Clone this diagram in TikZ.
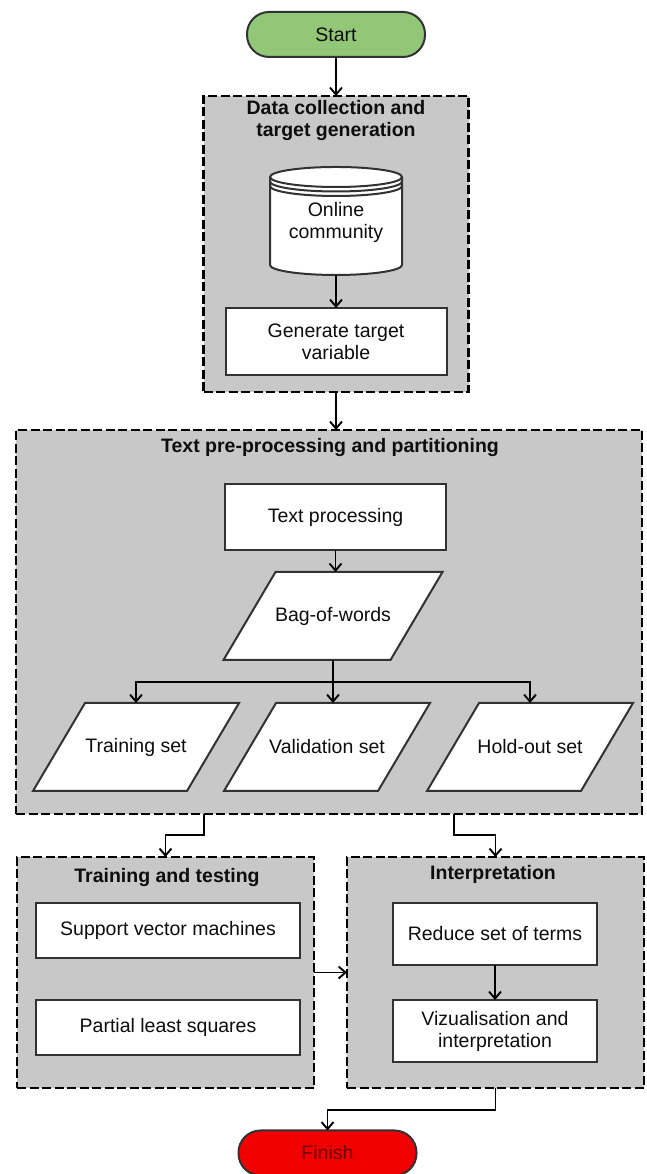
\documentclass[tikz,border=0pt]{standalone}
\usepackage{fontspec}
\setmainfont{Liberation Sans}
\usetikzlibrary{arrows.meta,calc,positioning}

\definecolor{groupgray}{RGB}{200,200,200}
\definecolor{startgreen}{RGB}{146,199,120}
\definecolor{finishred}{RGB}{240,0,0}
\definecolor{edgegray}{RGB}{50,50,50}

\tikzset{
  every node/.style={font=\fontsize{19.5}{22}\selectfont, align=center,
    inner sep=0pt, outer sep=0pt, text=black!95},
  group/.style={draw=black, fill=groupgray, line width=2.8pt,
    dash pattern=on 9pt off 3.5pt},
  process/.style={draw=edgegray, fill=white, line width=2pt},
  terminal/.style={draw=edgegray, line width=2pt, rounded corners=22pt,
    minimum width=178, minimum height=45},
  title/.style={font=\fontsize{19.5}{22}\selectfont\bfseries},
  flow/.style={draw, line width=1.9pt, -{Straight Barb[length=7pt,width=12pt]}},
}

% slanted data box: name, x, y, half width, text
\newcommand{\slantbox}[5]{%
  \draw[process] ($(#2,#3)+(-#4-26,-44)$) -- ++(2*#4,0) -- ++(52,88)
    -- ++(-2*#4,0) -- cycle;
  \node[minimum width=2*#4, minimum height=88] (#1) at (#2,#3) {#5};
}

\begin{document}
\begin{tikzpicture}[x=1pt, y=1pt]
  \useasboundingbox (0,0) rectangle (647,1174);

  % start
  \node[terminal, fill=startgreen] (start) at (336,1139.5) {Start};

  % data collection and target generation
  \node[group, minimum width=265, minimum height=296] (collect) at (336,930) {};
  \node[title] (collect title) at (336,1053) {Data collection and\\target generation};

  % database drum
  \filldraw[process] (270,997) arc[start angle=180, end angle=0, x radius=66, y radius=10]
    -- (402,909) arc[start angle=0, end angle=-180, x radius=66, y radius=10] -- cycle;
  \draw[process, fill=none]
    (270,997) arc[start angle=180, end angle=360, x radius=66, y radius=10]
    (270,992.5) arc[start angle=180, end angle=360, x radius=66, y radius=10]
    (270,988) arc[start angle=180, end angle=360, x radius=66, y radius=10];
  \node (online) at (336,952) {Online\\community};
  \coordinate (cylbase) at (336,899);

  \node[process, minimum width=221, minimum height=67] (target) at (336,832.5)
    {Generate target\\variable};

  % text pre-processing and partitioning
  \node[group, minimum width=626, minimum height=384] (prep) at (329,552) {};
  \node[title] (prep title) at (330,726) {Text pre-processing and partitioning};
  \node[process, minimum width=221, minimum height=66] (textproc) at (335.5,657)
    {Text processing};
  \slantbox{bow}{333}{558}{83.5}{Bag-of-words}
  \slantbox{train}{136}{427}{77}{Training set}
  \slantbox{valid}{327}{427}{77}{Validation set}
  \slantbox{holdout}{530}{427}{77}{Hold-out set}

  % training and testing
  \node[group, minimum width=297, minimum height=231] (model) at (165.5,201.5) {};
  \node[title] (model title) at (167,296.5) {Training and testing};
  \node[process, minimum width=264, minimum height=55] (svm) at (168,243.5)
    {Support vector machines};
  \node[process, minimum width=264, minimum height=55, below=42 of svm] (pls)
    {Partial least squares};

  % interpretation
  \node[group, minimum width=297, minimum height=231] (interp) at (495.5,201.5) {};
  \node[title] (interp title) at (493,299.5) {Interpretation};
  \node[process, minimum width=204, minimum height=62] (reduce) at (495,240)
    {Reduce set of terms};
  \node[process, minimum width=204, minimum height=62, below=35 of reduce] (viz)
    {Vizualisation and\\interpretation};

  % finish
  \node[terminal, fill=finishred, text={rgb,255:red,110;green,0;blue,0}] (finish)
    at (327.5,21) {Finish};

  % connectors
  \draw[flow] (start) -- (collect);
  \draw[flow] (cylbase) -- (target);
  \draw[flow] (collect.south) -- (collect.south |- prep.north);
  \draw[flow] (textproc.south) -- (textproc.south |- bow.north);
  \draw[flow] (bow.south) -- (bow.south |- valid.north);
  \draw[flow] (bow.south) -- ++(0,-22) -| (train.north);
  \draw[flow] (bow.south) -- ++(0,-22) -| (holdout.north);
  \draw[flow] ($(prep.south west)!0.3!(prep.south east)$) -- ++(0,-21) -| (model.north);
  \draw[flow] ($(prep.south west)!0.7!(prep.south east)$) -- ++(0,-21) -| (interp.north);
  \draw[flow] (model) -- (interp);
  \draw[flow] (reduce) -- (viz);
  \draw[flow] (interp.south) -- ++(0,-22) -| (finish.north);
\end{tikzpicture}
\end{document}
